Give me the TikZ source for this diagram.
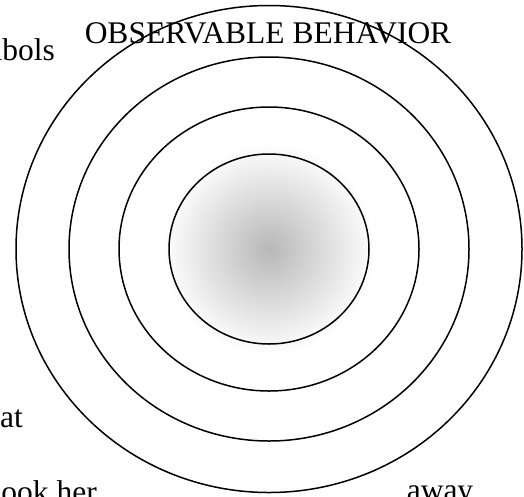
\documentclass[tikz,border=0pt]{standalone}
\usepackage{fontspec}
\setmainfont{Liberation Serif}
\usetikzlibrary{positioning}

\begin{document}
\begin{tikzpicture}[
  x=1pt, y=-1pt,
  every node/.style={font=\fontsize{31.5}{38}\selectfont, inner sep=0pt},
  ring/.style={draw=black, line width=1.5pt},
  label/.style={text=black},
]
  \useasboundingbox (0,0) rectangle (524,496);
  \clip (0,0) rectangle (524,496);

  % Core
  \shade[inner color=black!28, outer color=white] (269,249) circle (106);

  % Rings
  \foreach \a/\b in {100/95, 150/142, 200/192, 253/243.5}
    \draw[ring] (269,249) ellipse [x radius=\a, y radius=\b];

  % Title
  \node[label, anchor=base] (title) at (268,43) {OBSERVABLE BEHAVIOR};

  % Text fragments at the edges
  \node[label, anchor=base east] (symbols) at (55,60) {mbols};
  \node[label, anchor=base west] (that) at (0,427) {at};
  \node[label, anchor=base east] (dot) at (1.5,463) {.};
  \node[label, anchor=base east] (her) at (97,502) {ook her};
  \node[label, anchor=base] (away) at (440,500) {away};
\end{tikzpicture}
\end{document}
